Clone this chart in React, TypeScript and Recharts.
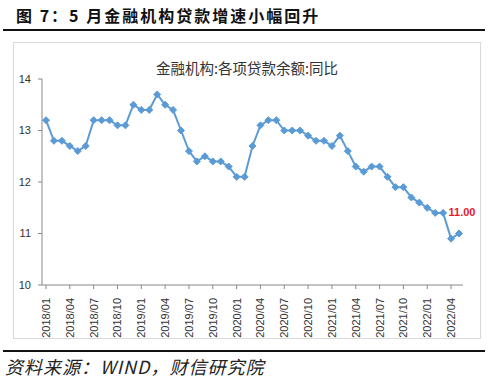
import React from 'react';
import { LineChart, Line, XAxis, YAxis, LabelList } from 'recharts';

const months: string[] = [];
for (let y = 2018; y <= 2022; y++) {
  for (let m = 1; m <= 12; m++) {
    if (y === 2022 && m > 5) break;
    months.push(`${y}/${m < 10 ? '0' + m : m}`);
  }
}

const values: number[] = [
  13.2, 12.8, 12.8, 12.7, 12.6, 12.7, 13.2, 13.2, 13.2, 13.1, 13.1, 13.5,
  13.4, 13.4, 13.7, 13.5, 13.4, 13.0, 12.6, 12.4, 12.5, 12.4, 12.4, 12.3,
  12.1, 12.1, 12.7, 13.1, 13.2, 13.2, 13.0, 13.0, 13.0, 12.9, 12.8, 12.8,
  12.7, 12.9, 12.6, 12.3, 12.2, 12.3, 12.3, 12.1, 11.9, 11.9, 11.7, 11.6,
  11.5, 11.4, 11.4, 10.9, 11.0,
];

const yTicks: number[] = [10, 11, 12, 13, 14];
const xTicks: string[] = months.filter((_, i) => i % 3 === 0);

const data = months.map((m, i) => ({ month: m, value: values[i] }));

const LINE_COLOR = '#5B9BD5';
const FONT = '"Liberation Sans", Arial, sans-serif';
const CJK = '"Noto Sans CJK SC", sans-serif';

const Diamond = (props: any) => {
  const { cx, cy } = props;
  if (cx == null || cy == null) return null;
  const r = 3.5;
  return (
    <path
      d={`M${cx},${cy - r}L${cx + r},${cy}L${cx},${cy + r}L${cx - r},${cy}Z`}
      fill={LINE_COLOR}
      stroke={LINE_COLOR}
    />
  );
};

const XTick = (props: any) => {
  const { x, y, payload } = props;
  return (
    <text
      x={0}
      y={0}
      transform={`translate(${x + 4},${y + 7}) rotate(-90)`}
      textAnchor="end"
      fontSize={11}
      fill="#333"
      fontFamily={FONT}
    >
      {payload.value}
    </text>
  );
};

const LastLabel = (props: any) => {
  const { x, y, index, value } = props;
  if (index !== values.length - 1) return null;
  return (
    <text
      x={x + 3}
      y={y - 18}
      textAnchor="middle"
      fontSize={11}
      fontWeight="bold"
      fill="#E8192C"
      fontFamily={FONT}
    >
      {Number(value).toFixed(2)}
    </text>
  );
};

export default function App() {
  return (
    <div
      style={{
        position: 'absolute',
        left: 0,
        top: 0,
        width: 500,
        height: 390,
        background: '#fff',
        overflow: 'hidden',
      }}
    >
      <div
        style={{
          position: 'absolute',
          left: 16,
          top: 3,
          fontSize: 16,
          fontWeight: 'bold',
          fontFamily: CJK,
          color: '#111',
          letterSpacing: 2,
          whiteSpace: 'nowrap',
        }}
      >
        图 7：5 月金融机构贷款增速小幅回升
      </div>
      <div
        style={{
          position: 'absolute',
          left: 3,
          top: 29,
          width: 482,
          height: 2,
          background: '#111',
        }}
      />
      <div
        style={{
          position: 'absolute',
          left: 13,
          top: 42,
          width: 466,
          height: 295,
          border: '1px solid #d9d9d9',
        }}
      >
        <div
          style={{
            position: 'absolute',
            left: 0,
            top: 15,
            width: 466,
            textAlign: 'center',
            fontSize: 14.5,
            fontFamily: CJK,
            color: '#333',
            lineHeight: '20px',
          }}
        >
          金融机构:各项贷款余额:同比
        </div>
        <div style={{ position: 'absolute', left: -1, top: -1 }}>
          <LineChart
            width={468}
            height={297}
            data={data}
            margin={{ top: 37, right: 18, bottom: 0, left: 0 }}
          >
            <XAxis
              dataKey="month"
              ticks={xTicks}
              interval={0}
              tick={<XTick />}
              tickSize={4}
              padding={{ left: 4, right: 4 }}
              height={54}
              stroke="#888"
              axisLine={{ stroke: '#888', strokeWidth: 1 }}
            />
            <YAxis
              domain={[10, 14]}
              ticks={yTicks}
              interval={0}
              width={29}
              tickSize={4}
              tickMargin={7}
              tick={{ fontSize: 11, fill: '#333', fontFamily: FONT }}
              stroke="#888"
            />
            <Line
              type="linear"
              dataKey="value"
              stroke={LINE_COLOR}
              strokeWidth={2}
              dot={<Diamond />}
              activeDot={false}
              isAnimationActive={false}
            >
              <LabelList dataKey="value" content={<LastLabel />} />
            </Line>
          </LineChart>
        </div>
      </div>
      <div
        style={{
          position: 'absolute',
          left: 3,
          top: 350,
          width: 482,
          height: 2,
          background: '#111',
        }}
      />
      <div
        style={{
          position: 'absolute',
          left: 5,
          top: 355,
          fontSize: 18,
          fontStyle: 'italic',
          fontFamily: CJK,
          color: '#222',
          whiteSpace: 'nowrap',
          lineHeight: '22px',
          letterSpacing: 1,
        }}
      >
        资料来源：WIND，财信研究院
      </div>
    </div>
  );
}
